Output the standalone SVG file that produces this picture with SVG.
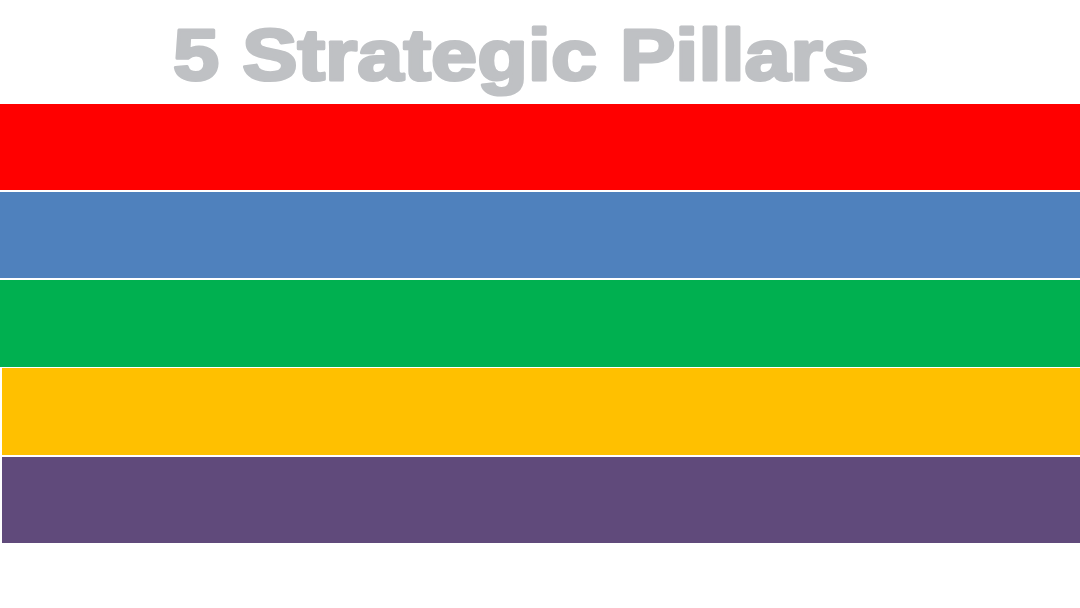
<svg xmlns="http://www.w3.org/2000/svg" width="1080" height="608" viewBox="0 0 1080 608">
<style>
.title{font-family:"Liberation Sans",Arial,sans-serif;font-weight:bold;font-size:72px;fill:#BFC1C4;stroke:#BFC1C4;stroke-width:3;stroke-linejoin:round}
</style>
<rect width="1080" height="608" fill="#FFFFFF"/>
<g id="title"><text class="title" x="173" y="80" textLength="696" lengthAdjust="spacingAndGlyphs">5 Strategic Pillars</text></g>
<g id="pillar1"><rect x="0" y="104" width="1080" height="86" fill="#FF0000"/></g>
<g id="pillar2"><rect x="0" y="192" width="1080" height="86" fill="#4F81BD"/></g>
<g id="pillar3"><rect x="0" y="280" width="1080" height="87" fill="#00B050"/></g>
<g id="pillar4"><rect x="2" y="368" width="1078" height="87" fill="#FFC000"/></g>
<g id="pillar5"><rect x="2" y="457" width="1078" height="86" fill="#604A7B"/></g>
</svg>
